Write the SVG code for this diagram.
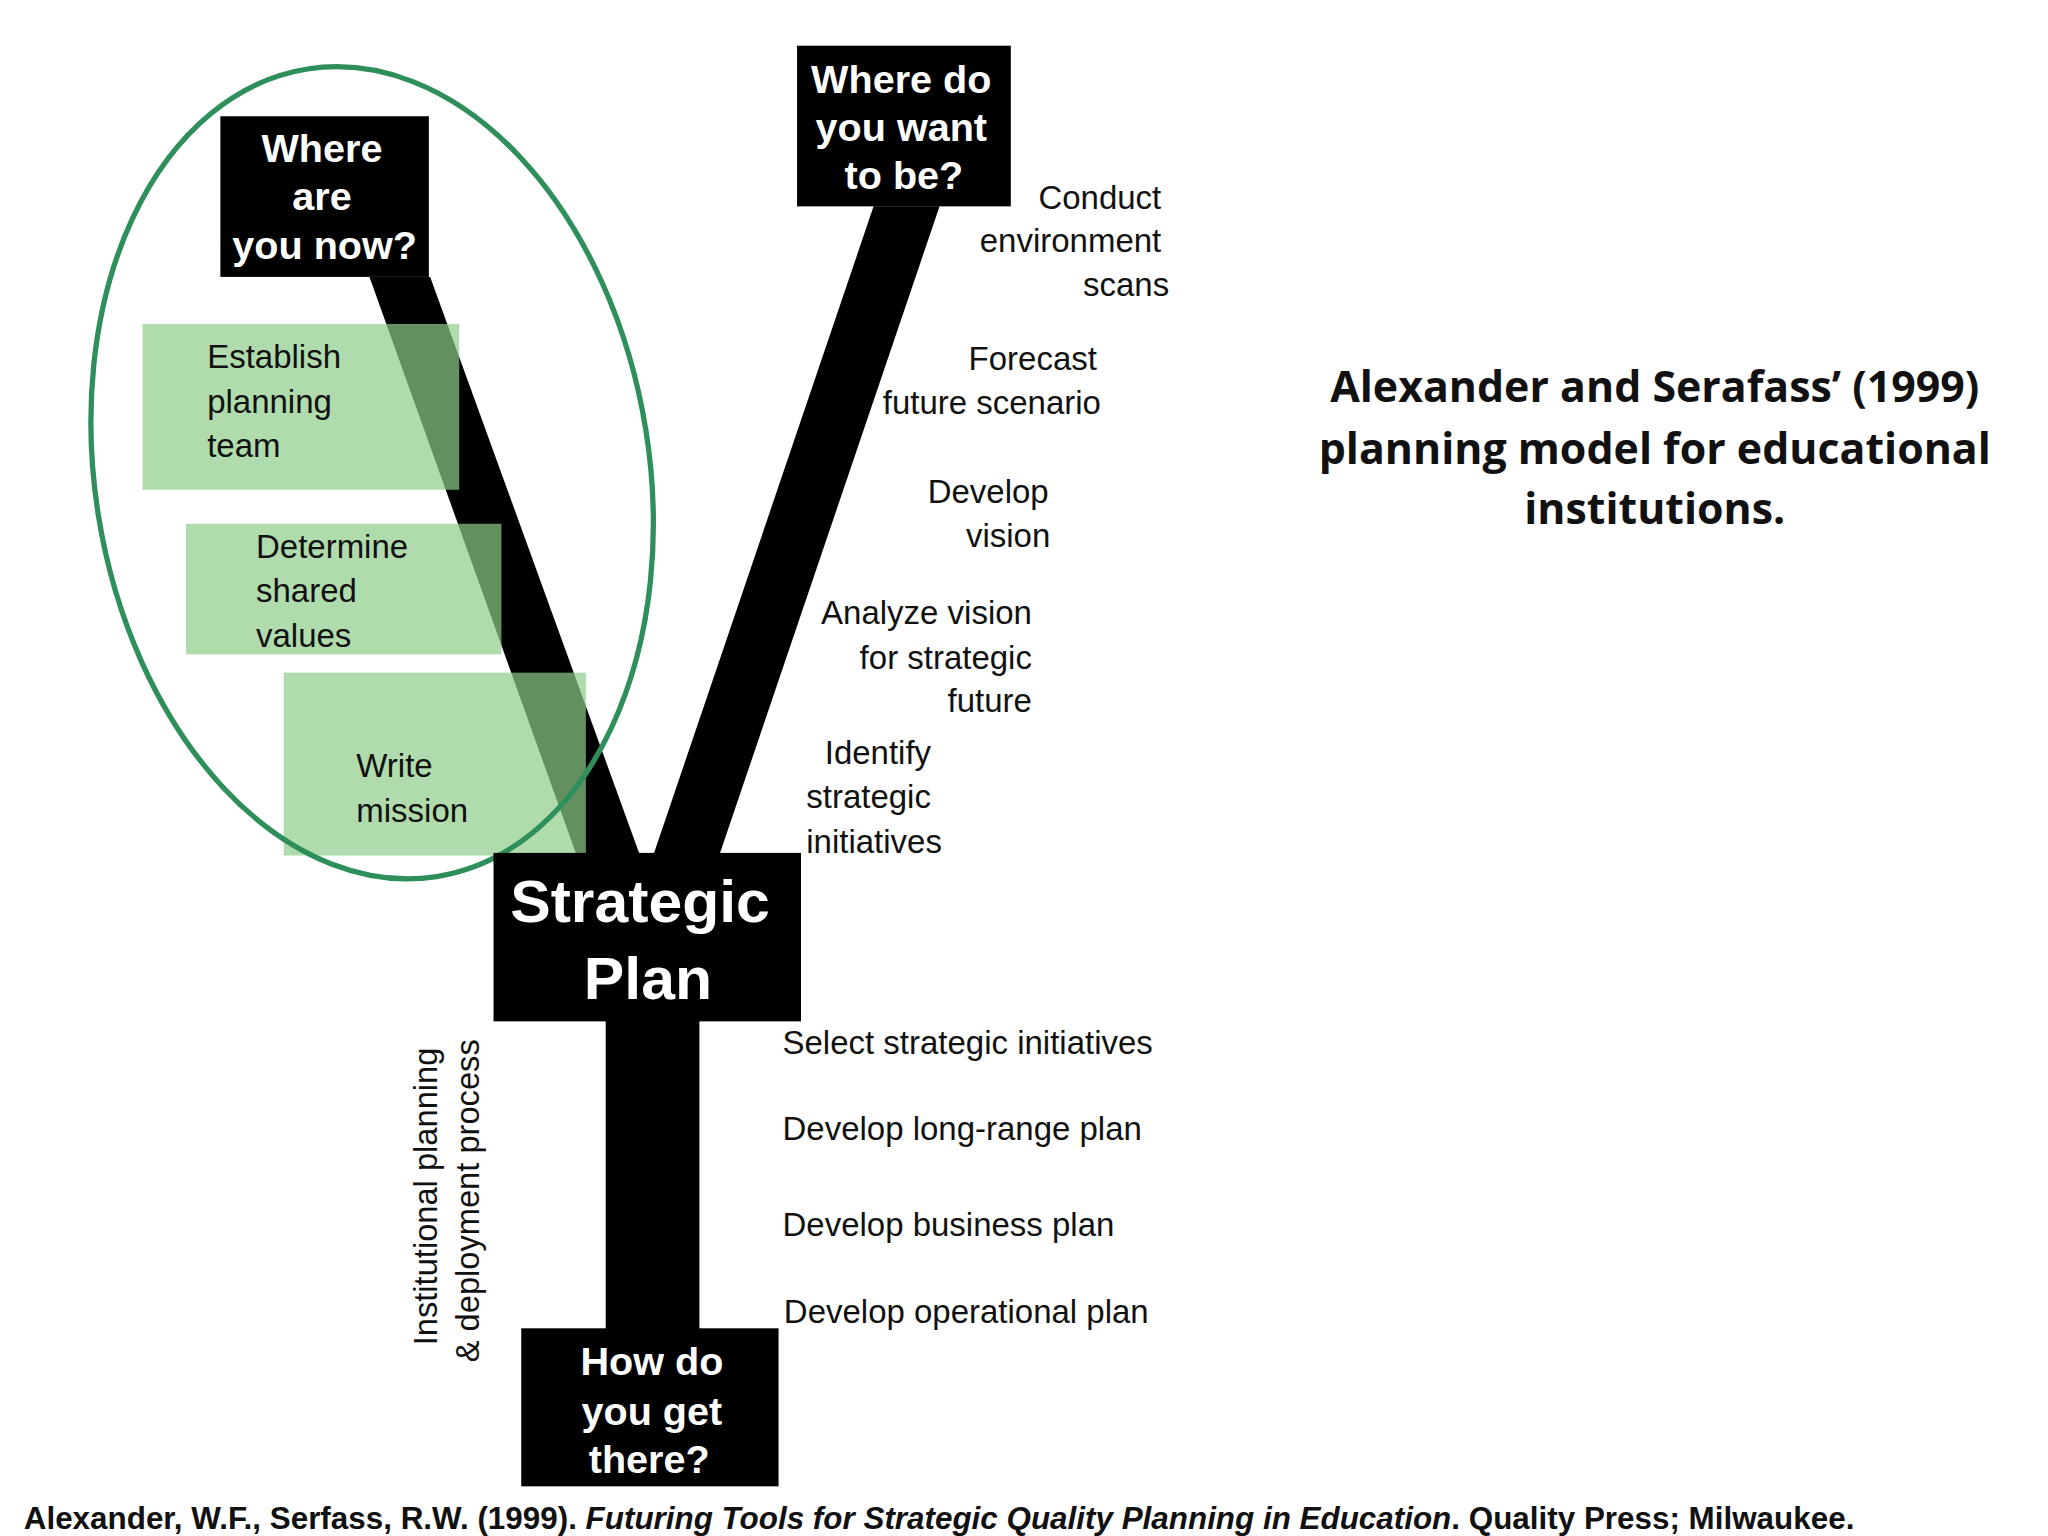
<svg xmlns="http://www.w3.org/2000/svg" width="2048" height="1536" viewBox="0 0 2048 1536">
<style>
.b{fill:#000}
.bt{font-family:"Liberation Sans",Arial,sans-serif;font-weight:bold;fill:#fff;text-anchor:middle}
.t{font-family:"Liberation Sans",Arial,sans-serif;font-size:25px;fill:#111}
.g{fill:#8fcc8a;opacity:0.7}
</style>
<rect width="2048" height="1536" fill="#fff"/>
<g transform="scale(1.3196,1.3061)">
<g id="connectors">
<polygon class="b" points="280,212 326,212 485,655 437,655"/>
<polygon class="b" points="662,158 712,158 545,655 495,655"/>
<rect class="b" x="459" y="780" width="71" height="240"/>
</g>
<g id="green">
<rect class="g" x="108" y="248" width="240" height="127"/>
<rect class="g" x="141" y="401" width="239" height="100"/>
<rect class="g" x="215" y="515" width="229" height="140"/>
<text class="t" x="157" y="282">Establish</text>
<text class="t" x="157" y="316">planning</text>
<text class="t" x="157" y="350">team</text>
<text class="t" x="194" y="427">Determine</text>
<text class="t" x="194" y="461">shared</text>
<text class="t" x="194" y="495">values</text>
<text class="t" x="270" y="595">Write</text>
<text class="t" x="270" y="629">mission</text>
</g>
<ellipse cx="282" cy="362" rx="210" ry="313" transform="rotate(-9 282 362)" fill="none" stroke="#2f8f5a" stroke-width="4"/>
<g id="now"><rect class="b" x="167" y="89" width="158" height="123"/>
<text class="bt" font-size="30" x="244" y="124">Where</text><text class="bt" font-size="30" x="244" y="161">are</text><text class="bt" font-size="30" x="246" y="198">you now?</text></g>
<g id="want"><rect class="b" x="604" y="35" width="162" height="123"/>
<text class="bt" font-size="30" x="683" y="71">Where do</text><text class="bt" font-size="30" x="683" y="108">you want</text><text class="bt" font-size="30" x="685" y="145">to be?</text></g>
<g id="plan"><rect class="b" x="374" y="653" width="233" height="129"/>
<text class="bt" font-size="46" x="485" y="706">Strategic</text><text class="bt" font-size="46" x="491" y="765">Plan</text></g>
<g id="how"><rect class="b" x="395" y="1017" width="195" height="121"/>
<text class="bt" font-size="30" x="494" y="1053">How do</text><text class="bt" font-size="30" x="494" y="1091">you get</text><text class="bt" font-size="30" x="492" y="1128">there?</text></g>
<g id="labels" class="t">
<text x="880" y="160" text-anchor="end">Conduct</text>
<text x="880" y="193" text-anchor="end">environment</text>
<text x="886" y="227" text-anchor="end">scans</text>
<text x="734" y="283">Forecast</text>
<text x="669" y="317">future scenario</text>
<text x="703" y="385">Develop</text>
<text x="732" y="419">vision</text>
<text x="782" y="478" text-anchor="end">Analyze vision</text>
<text x="782" y="512" text-anchor="end">for strategic</text>
<text x="782" y="545" text-anchor="end">future</text>
<text x="625" y="585">Identify</text>
<text x="611" y="619">strategic</text>
<text x="611" y="653">initiatives</text>
<text x="593" y="807">Select strategic initiatives</text>
<text x="593" y="873">Develop long-range plan</text>
<text x="593" y="946">Develop business plan</text>
<text x="594" y="1013">Develop operational plan</text>
<text transform="translate(331,1030) rotate(-90)">Institutional planning</text>
<text transform="translate(363,1043) rotate(-90)">&amp; deployment process</text>
</g>
<g font-family="'Open Sans','Noto Sans',sans-serif" font-weight="bold" font-size="32.5" fill="#111" text-anchor="middle">
<text x="1254" y="308">Alexander and Serafass’ (1999)</text>
<text x="1254" y="355">planning model for educational</text>
<text x="1254" y="401">institutions.</text>
</g>
<text x="18" y="1171" font-family="'Liberation Sans',Arial,sans-serif" font-weight="bold" font-size="23.8" fill="#111">Alexander, W.F., Serfass, R.W. (1999). <tspan font-style="italic">Futuring Tools for Strategic Quality Planning in Education</tspan>. Quality Press; Milwaukee.</text>
</g>
</svg>
